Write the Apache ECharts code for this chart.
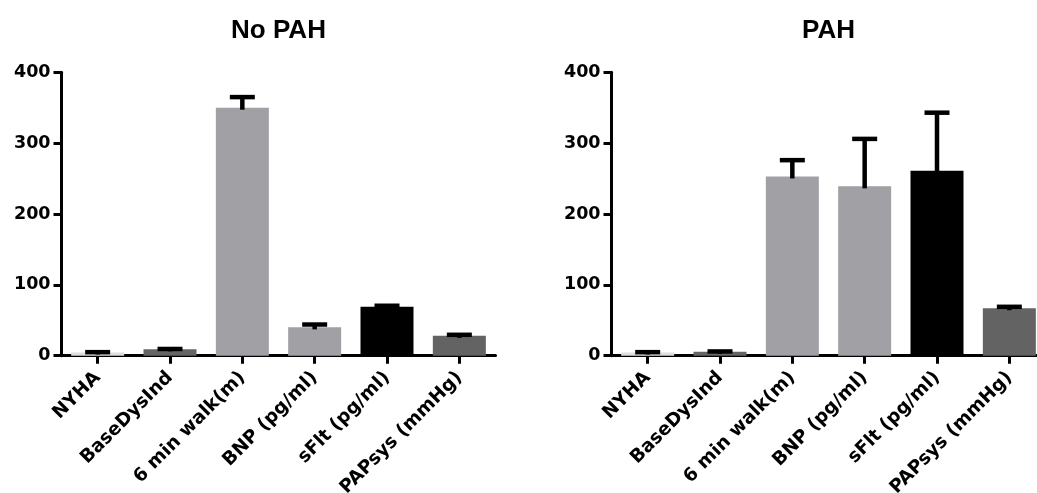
<!DOCTYPE html>
<html>
<head>
<meta charset="utf-8">
<script src="https://cdn.jsdelivr.net/npm/echarts@6/dist/echarts.min.js"></script>
<style>
html,body{margin:0;padding:0;background:#fff;}
#chart{width:1037px;height:493px;}
</style>
</head>
<body>
<div id="chart"></div>
<script>
const categories = ['NYHA', 'BaseDysInd', '6 min walk(m)', 'BNP (pg/ml)', 'sFlt (pg/ml)', 'PAPsys (mmHg)'];
const noPahMean = [4.5, 9, 350, 40, 69, 28];
const noPahErr  = [0.5, 0.5, 15, 4, 1.5, 1.5];
const pahMean   = [4.5, 5.5, 253, 239, 261, 67];
const pahErr    = [0.5, 0.5, 23, 67, 82, 2];
const yTicks    = [0, 100, 200, 300, 400];
const panelTitles = ['No PAH', 'PAH'];

const barColors = ['#dedede', '#666666', '#a1a1a5', '#a1a1a5', '#000000', '#636363'];
const tickFont = 'DejaVu Sans';

const chart = echarts.init(document.getElementById('chart'), null, {renderer: 'canvas'});

const grids = [
  {left: 61.5, right: 541.5, top: 72.3, bottom: 137.3, containLabel: false, outerBoundsMode: 'none'},
  {left: 611.5, right: -8.5, top: 72.3, bottom: 137.3, containLabel: false, outerBoundsMode: 'none'}
];

function xAxis(gi) {
  return {
    type: 'category', gridIndex: gi, data: categories, boundaryGap: true,
    axisLine: {show: true, lineStyle: {color: '#000', width: 3}},
    axisTick: {show: true, alignWithLabel: true, length: 8, lineStyle: {color: '#000', width: 3}},
    axisLabel: {interval: 0, rotate: 45, margin: 19, color: '#000',
      fontFamily: tickFont, fontWeight: 'bold', fontSize: 18.5},
    splitLine: {show: false}
  };
}
function yAxis(gi) {
  return {
    type: 'value', gridIndex: gi, min: yTicks[0], max: yTicks[yTicks.length - 1],
    interval: yTicks[1] - yTicks[0],
    axisLine: {show: true, lineStyle: {color: '#000', width: 3}},
    axisTick: {show: true, length: 8, lineStyle: {color: '#000', width: 3}},
    axisLabel: {margin: 11, color: '#000', fontFamily: tickFont, fontWeight: 'bold', fontSize: 17.5},
    splitLine: {show: false}
  };
}

function barSeries(gi, means) {
  return {
    type: 'bar', xAxisIndex: gi, yAxisIndex: gi, barWidth: 53,
    data: means.map((v, i) => ({value: v, itemStyle: {color: barColors[i]}})),
    animation: false, z: 2
  };
}
function errSeries(gi, means, errs) {
  return {
    type: 'custom', xAxisIndex: gi, yAxisIndex: gi, z: 5, animation: false,
    data: means.map((v, i) => [i, v, v + errs[i]]),
    renderItem: function (params, api) {
      const base = api.coord([api.value(0), api.value(1)]);
      const top = api.coord([api.value(0), api.value(2)]);
      const half = 12.5;
      const style = {stroke: '#000', lineWidth: 4.5, fill: null};
      return {
        type: 'group',
        children: [
          {type: 'line', shape: {x1: base[0], y1: base[1] + 2, x2: top[0], y2: top[1]}, style: style},
          {type: 'line', shape: {x1: top[0] - half, y1: top[1], x2: top[0] + half, y2: top[1]}, style: style}
        ]
      };
    }
  };
}

chart.setOption({
  backgroundColor: '#fff',
  animation: false,
  title: panelTitles.map((t, i) => ({
    text: t,
    left: i === 0 ? 278.5 : 828.5,
    textAlign: 'center',
    top: 18,
    padding: 0,
    textStyle: {fontFamily: 'Liberation Sans', fontWeight: 'bold', fontSize: 26, color: '#000'}
  })),
  grid: grids,
  xAxis: [xAxis(0), xAxis(1)],
  yAxis: [yAxis(0), yAxis(1)],
  series: [
    barSeries(0, noPahMean), errSeries(0, noPahMean, noPahErr),
    barSeries(1, pahMean), errSeries(1, pahMean, pahErr)
  ]
});
</script>
</body>
</html>
